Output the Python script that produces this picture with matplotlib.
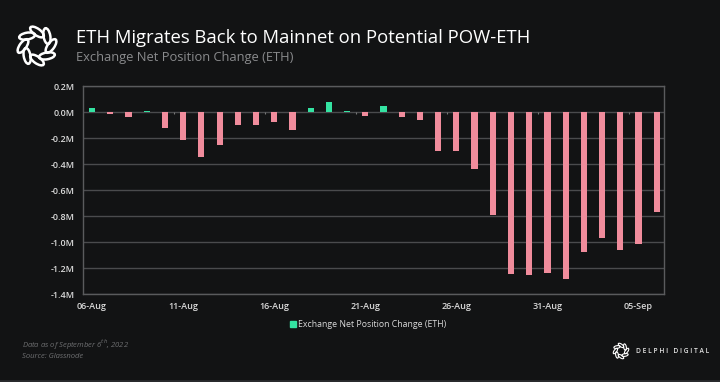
import matplotlib
matplotlib.use("Agg")
import matplotlib.pyplot as plt
from matplotlib.patches import Ellipse, Rectangle
import numpy as np

# ---- data ----
dates = ["06-Aug", "07-Aug", "08-Aug", "09-Aug", "10-Aug", "11-Aug", "12-Aug", "13-Aug",
         "14-Aug", "15-Aug", "16-Aug", "17-Aug", "18-Aug", "19-Aug", "20-Aug", "21-Aug",
         "22-Aug", "23-Aug", "24-Aug", "25-Aug", "26-Aug", "27-Aug", "28-Aug", "29-Aug",
         "30-Aug", "31-Aug", "01-Sep", "02-Sep", "03-Sep", "04-Sep", "05-Sep", "06-Sep"]
net_change_m = [0.030, -0.018, -0.035, 0.006, -0.120, -0.215, -0.345, -0.250,
                -0.100, -0.100, -0.075, -0.135, 0.033, 0.077, 0.008, -0.028,
                0.046, -0.036, -0.060, -0.300, -0.300, -0.436, -0.790, -1.243,
                -1.250, -1.235, -1.285, -1.077, -0.970, -1.060, -1.018, -0.770]
y_ticks = [0.2, 0.0, -0.2, -0.4, -0.6, -0.8, -1.0, -1.2, -1.4]
x_label_every = 5

title = "ETH Migrates Back to Mainnet on Potential POW-ETH"
subtitle = "Exchange Net Position Change (ETH)"
series_name = "Exchange Net Position Change (ETH)"

BG = "#121314"
GREEN = "#34e3a2"
PINK = "#f08c9c"
GRID = "#4a4b4d"
TXT = "#d9d9d9"

plt.rcParams['font.family'] = ['Open Sans', 'DejaVu Sans']

fig = plt.figure(figsize=(7.2, 3.82), dpi=100, facecolor=BG)
W, H = 720, 382

ax = fig.add_axes([83 / W, 1 - 294 / H, (664 - 83) / W, (294 - 86) / H])
ax.set_facecolor(BG)

x = np.arange(len(dates))
vals = np.array(net_change_m)
colors = [GREEN if v >= 0 else PINK for v in vals]
ax.bar(x, vals, width=0.34, color=colors, zorder=3)

ax.set_ylim(-1.4, 0.2)
ax.set_xlim(-0.5, len(dates) - 0.6)
ax.set_yticks(y_ticks)
ax.set_yticklabels([f"{v:.1f}M" for v in y_ticks])
ax.yaxis.grid(True, color=GRID, linewidth=1.0, zorder=0)
ax.set_axisbelow(True)

xt = x[::x_label_every]
ax.set_xticks(xt)
ax.set_xticklabels([dates[i] for i in xt])
ax.tick_params(axis='both', length=0, colors=TXT, labelsize=6.5, pad=6)
for lab in ax.get_xticklabels() + ax.get_yticklabels():
    lab.set_fontweight('semibold')
    lab.set_color(TXT)

for s in ax.spines.values():
    s.set_color("#5a5b5d")
    s.set_linewidth(1.0)

# small tick marks on the zero line between category groups
tick_pos = np.arange(x_label_every, len(dates), x_label_every) - 0.5
ax.vlines(tick_pos, -0.012, 0.0, color="#777777", linewidth=0.8, zorder=2)

# ---- titles ----
fig.text(76 / W, 1 - 38 / H, title, color="white", fontsize=13.3, va='center', ha='left')
fig.text(76 / W, 1 - 58 / H, subtitle, color="#8a8b8d", fontsize=9.3, va='center', ha='left')

# ---- overlay for legend, footer, logos ----
ov = fig.add_axes([0, 0, 1, 1], facecolor='none')
ov.set_xlim(0, W)
ov.set_ylim(H, 0)
ov.axis('off')
ov.add_patch(Rectangle((290, 321), 5.5, 5.5, color=GREEN))
ov.text(298, 324.5, series_name, color=TXT, fontsize=6.3, va='center', ha='left')

ov.text(22, 345, "Data as of September 6$^{th}$, 2022", color="#6e6f71", fontsize=5.5,
        style='italic', va='center', ha='left')
ov.text(22, 356, "Source: Glassnode", color="#6e6f71", fontsize=5.5,
        style='italic', va='center', ha='left')
ov.plot([0, W], [380.5, 380.5], color="#2a2b2d", linewidth=2)


def draw_logo(cx, cy, R, lw):
    r = R * 0.7
    for k in range(8):
        ang = 2 * np.pi * k / 8
        ex = cx + r * np.cos(ang)
        ey = cy + r * np.sin(ang)
        e = Ellipse((ex, ey), width=R * 0.8, height=R * 0.34,
                    angle=np.degrees(ang) + 90 + 35, fill=False,
                    edgecolor="white", linewidth=lw)
        ov.add_patch(e)


draw_logo(37, 46, 20, 1.8)
draw_logo(621, 351, 8, 0.8)
ov.text(636, 351.5, "D E L P H I   D I G I T A L", color="#e6e6e6", fontsize=4.8,
        va='center', ha='left', fontweight='semibold')

fig.savefig("out.png", dpi=100, facecolor=BG)
